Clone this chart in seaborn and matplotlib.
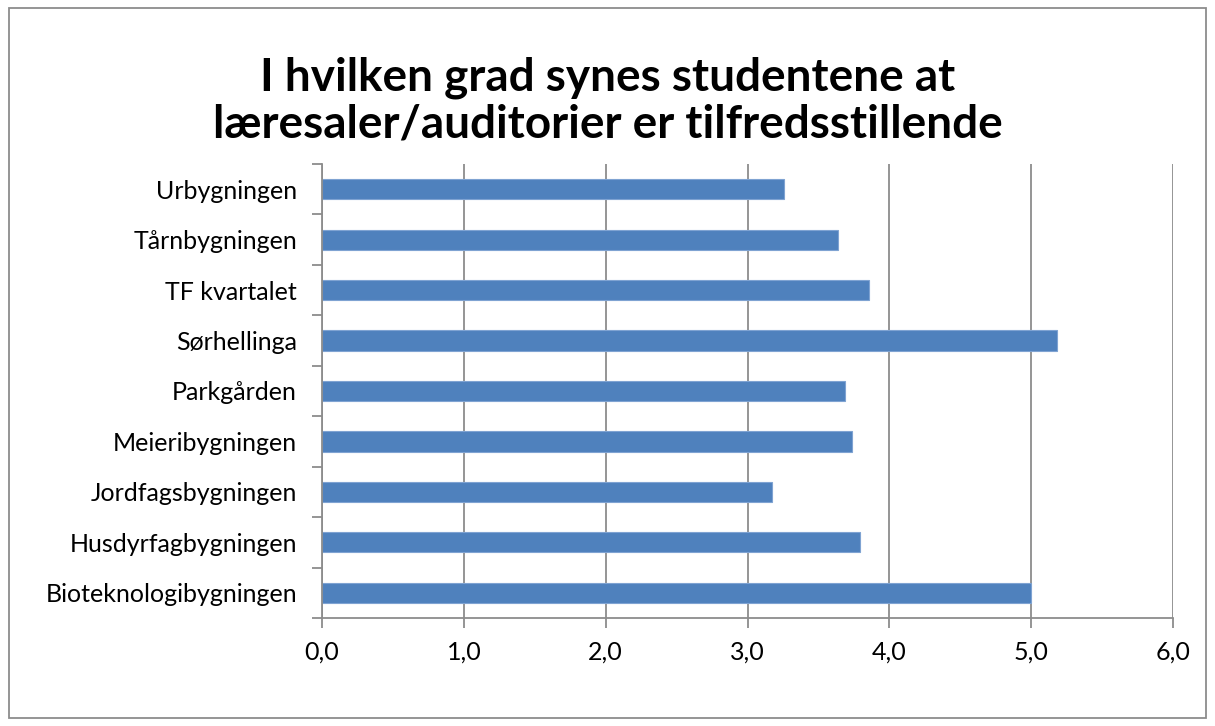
import numpy as np
import pandas as pd
import seaborn as sns
import matplotlib.pyplot as plt
from matplotlib.ticker import FixedLocator, FuncFormatter
from matplotlib.patches import Rectangle

buildings = ["Urbygningen", "Tårnbygningen", "TF kvartalet", "Sørhellinga",
             "Parkgården", "Meieribygningen", "Jordfagsbygningen",
             "Husdyrfagbygningen", "Bioteknologibygningen"]
scores = [3.26, 3.64, 3.86, 5.18, 3.69, 3.74, 3.17, 3.79, 5.00]
x_ticks = [0, 1, 2, 3, 4, 5, 6]

df = pd.DataFrame({"Bygning": buildings, "Score": scores})

sns.set_style("white")
plt.rcParams['font.family'] = ['Lato', 'DejaVu Sans']
plt.rcParams['text.color'] = 'black'

fig = plt.figure(figsize=(12.15, 7.26), dpi=100)
ax = fig.add_axes([322 / 1215, 1 - 618 / 726, (1173 - 322) / 1215, (618 - 164) / 726])

sns.barplot(data=df, x="Score", y="Bygning", orient="h", color="#4F81BD",
            width=0.4, edgecolor="#7FA3D2", linewidth=0.8, saturation=1, ax=ax)

ax.set_xlim(0, 6)
ax.set_ylim(len(buildings) - 0.5, -0.5)
ax.xaxis.set_major_locator(FixedLocator(x_ticks))
ax.xaxis.set_major_formatter(FuncFormatter(lambda v, p: f"{v:.1f}".replace(".", ",")))
ax.grid(axis="x", color="#8C8C8C", linewidth=1.3)
ax.set_axisbelow(True)

for s in ["top", "right"]:
    ax.spines[s].set_visible(False)
for s in ["left", "bottom"]:
    ax.spines[s].set_color("#8C8C8C")
    ax.spines[s].set_linewidth(1.3)

ax.set_xlabel("")
ax.set_ylabel("")
ax.tick_params(axis="x", which="major", bottom=True, length=7, width=1.3,
               color="#8C8C8C", labelcolor="black", labelsize=18, pad=9)
ax.tick_params(axis="y", which="major", left=False, length=0, labelcolor="black",
               labelsize=18, pad=18)
ax.yaxis.set_minor_locator(FixedLocator(np.arange(-0.5, len(buildings), 1.0)))
ax.tick_params(axis="y", which="minor", left=True, length=7, width=1.3, color="#8C8C8C")

fig.text(0.5, 1 - 78 / 726, "I hvilken grad synes studentene at",
         ha="center", va="center", fontsize=33, fontweight="bold", color="black")
fig.text(0.5, 1 - 124 / 726, "læresaler/auditorier er tilfredsstillende",
         ha="center", va="center", fontsize=33, fontweight="bold", color="black")

fig.patches.append(Rectangle((9 / 1215, 1 - 718 / 726), 1197 / 1215, 710 / 726,
                             transform=fig.transFigure, fill=False,
                             edgecolor="#8C8C8C", linewidth=1.3))

fig.savefig("out.png", dpi=100, facecolor="white")
